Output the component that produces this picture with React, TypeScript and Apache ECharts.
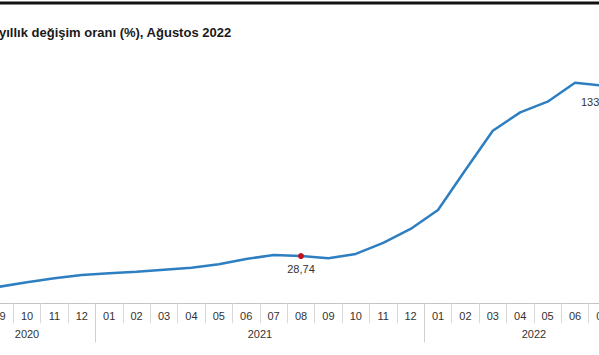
import React, { useEffect, useRef } from 'react';
import * as echarts from 'echarts';

const titleText = 'yıllık değişim oranı (%), Ağustos 2022';

const categories = [
  '2020-08', '2020-09', '2020-10', '2020-11', '2020-12',
  '2021-01', '2021-02', '2021-03', '2021-04', '2021-05', '2021-06',
  '2021-07', '2021-08', '2021-09', '2021-10', '2021-11', '2021-12',
  '2022-01', '2022-02', '2022-03', '2022-04', '2022-05', '2022-06',
  '2022-07', '2022-08',
];

const values = [
  9.0, 10.1, 12.8, 15.2, 17.2,
  18.2, 19.2, 20.4, 21.6, 23.7, 26.9,
  29.4, 28.74, 27.4, 30.0, 36.7, 45.2,
  56.7, 81.0, 104.9, 116.1, 122.6, 134.1,
  132.3, 133.45,
];

const highlighted = ['2021-08', '2022-08'];

const FONT = '"Liberation Sans", Arial, sans-serif';
const SHIFT = 42;

function fmt(v: number) {
  return v.toFixed(2).replace('.', ',');
}

export default function App() {
  const ref = useRef<HTMLDivElement>(null);

  useEffect(() => {
    const chart = echarts.init(ref.current!, null, { renderer: 'svg' });

    const years = Array.from(new Set(categories.map((c) => c.slice(0, 4))));
    const yearCenters = years.map((y) => {
      const idx = categories
        .map((c, i) => (c.startsWith(y) ? i : -1))
        .filter((i) => i >= 0);
      return (idx[0] + idx[idx.length - 1]) / 2;
    });
    const yearBounds: number[] = [];
    categories.forEach((c, i) => {
      if (i > 0 && c.slice(0, 4) !== categories[i - 1].slice(0, 4)) yearBounds.push(i - 0.5);
    });
    const lastIdx = categories.length - 1;

    const data = values.map((v, i) =>
      highlighted.includes(categories[i])
        ? {
            value: v,
            symbol: 'circle',
            symbolSize: 6,
            itemStyle: { color: '#c0111a' },
            label: {
              show: true,
              position: 'bottom',
              distance: 4,
              color: '#333',
              fontSize: 11,
              fontFamily: FONT,
              formatter: (p: any) => fmt(p.value),
              offset: i === lastIdx ? [-32, 6] : [0, 0],
            },
          }
        : v
    );

    chart.setOption({
      animation: false,
      backgroundColor: '#ffffff',
      graphic: [
        {
          type: 'rect',
          shape: { x: SHIFT, y: 1.5, width: 599, height: 3 },
          style: { fill: '#111111' },
        },
        {
          type: 'text',
          x: SHIFT - 1,
          y: 32,
          style: {
            text: titleText,
            fontSize: 13,
            fontWeight: 'bold',
            fontFamily: FONT,
            fill: '#1a1a1a',
            verticalAlign: 'middle',
          },
        },
      ],
      grid: { left: 0.5, right: 14.5, top: 53.3, bottom: 51.7, containLabel: false },
      xAxis: [
        {
          type: 'category',
          data: categories,
          boundaryGap: true,
          position: 'bottom',
          axisLine: { show: true, lineStyle: { color: '#c4c4c4', width: 1 } },
          axisTick: { show: true, length: 20, interval: 0, lineStyle: { color: '#d9d9d9' } },
          axisLabel: {
            interval: 0,
            margin: 7,
            fontSize: 11,
            fontFamily: FONT,
            color: '#333',
            formatter: (v: string) => v.slice(5),
          },
          splitLine: { show: false },
        },
        {
          type: 'value',
          min: -0.5,
          max: categories.length - 0.5,
          position: 'bottom',
          axisLine: { show: false },
          splitLine: { show: false },
          axisTick: {
            show: true,
            length: 39,
            customValues: yearBounds,
            lineStyle: { color: '#cfcfcf' },
          },
          axisLabel: {
            show: true,
            customValues: yearCenters,
            margin: 25,
            fontSize: 11,
            fontFamily: FONT,
            color: '#333',
            formatter: (v: number) => {
              const k = yearCenters.indexOf(v);
              return k >= 0 ? years[k] : '';
            },
          },
        },
      ],
      yAxis: { type: 'value', min: 0, max: 152, show: false },
      series: [
        {
          type: 'line',
          xAxisIndex: 0,
          data,
          symbol: 'none',
          showSymbol: true,
          smooth: false,
          lineStyle: { color: '#2e7fc2', width: 2.5 },
          itemStyle: { color: '#2e7fc2' },
        },
      ],
    });

    return () => chart.dispose();
  }, []);

  return (
    <div
      style={{
        position: 'absolute',
        left: 0,
        top: 0,
        width: 599,
        height: 355,
        overflow: 'hidden',
      }}
    >
      <div
        ref={ref}
        style={{ position: 'absolute', left: -SHIFT, top: 0, width: 700, height: 355 }}
      />
    </div>
  );
}
